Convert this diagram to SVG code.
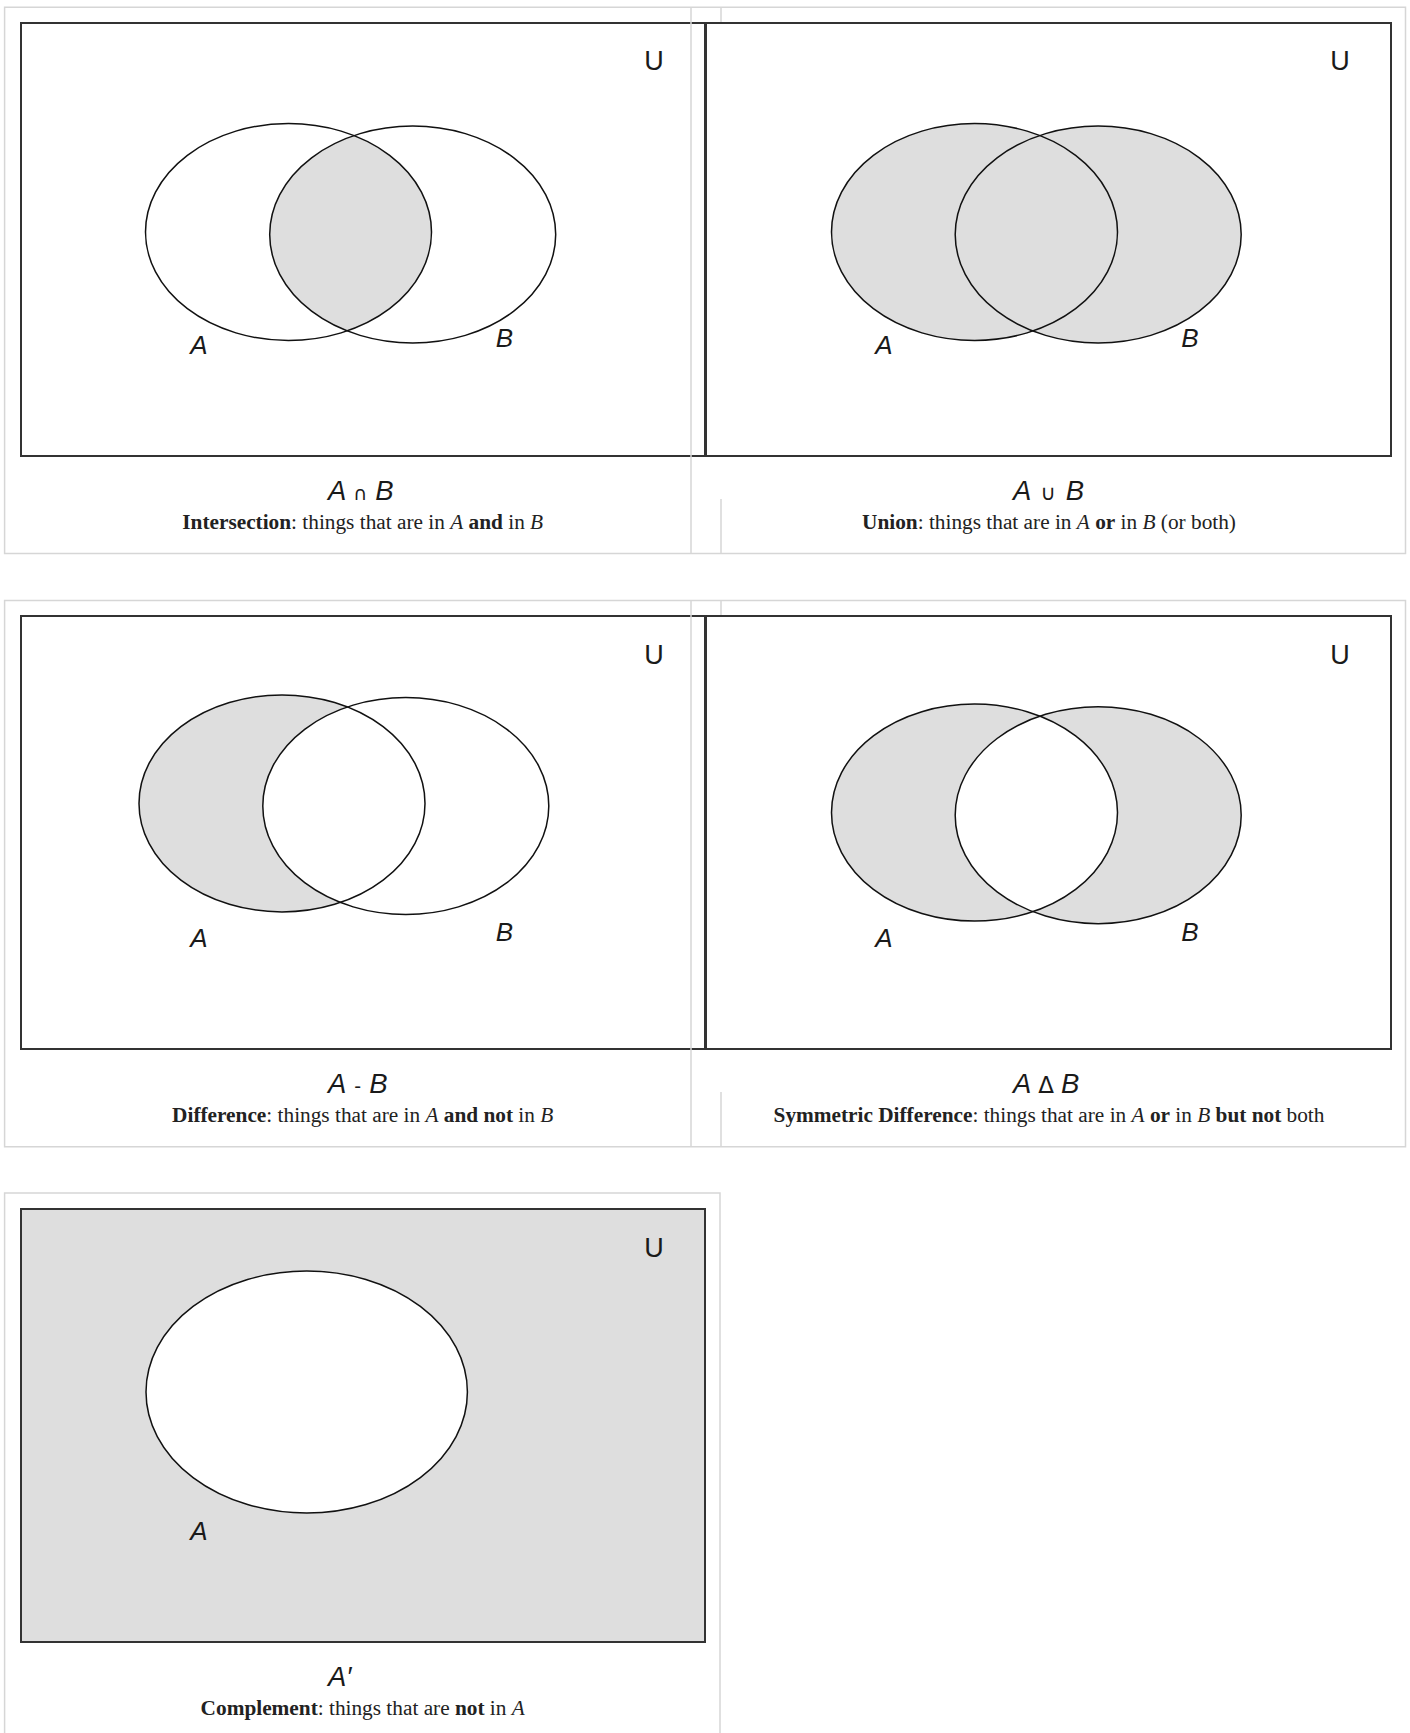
<svg xmlns="http://www.w3.org/2000/svg" width="1410" height="1733" viewBox="0 0 1410 1733">
  <style>
    .frame { fill: none; stroke: #d6d6d6; stroke-width: 1.5; }
    .uni { fill: #ffffff; stroke: #333333; stroke-width: 2; }
    .set { fill: none; stroke: #111111; stroke-width: 1.5; }
    .shade { fill: #dedede; }
    .blank { fill: #ffffff; }
    .lbl { font-family: "Liberation Sans", Arial, sans-serif; font-style: italic; font-size: 26px; fill: #1a1a1a; text-anchor: middle; }
    .u { font-family: "Liberation Sans", Arial, sans-serif; font-size: 27px; fill: #1a1a1a; text-anchor: middle; }
    .fx { font-family: "Liberation Sans", Arial, sans-serif; font-style: italic; font-size: 27.5px; fill: #1a1a1a; }
    .op { font-family: "DejaVu Sans", "Liberation Sans", sans-serif; font-style: normal; font-size: 19px; }
    .cap { font-family: "Liberation Serif", "Times New Roman", serif; font-size: 21.3px; fill: #222222; text-anchor: middle; }
    .b { font-weight: bold; }
    .i { font-style: italic; }
  </style>
  <defs>
    <clipPath id="clipA1"><ellipse cx="288.5" cy="232" rx="143" ry="108.5"/></clipPath>
    <clipPath id="clipA4"><ellipse cx="974.5" cy="812.6" rx="143" ry="108.5"/></clipPath>
  </defs>

  <rect width="1410" height="1733" fill="#ffffff"/>

  <!-- Intersection -->
  <g id="intersection">
    <rect class="uni" x="21" y="23" width="684" height="433"/>
    <ellipse class="shade" cx="412.7" cy="234.5" rx="143" ry="108.5" clip-path="url(#clipA1)"/>
    <ellipse class="set" cx="288.5" cy="232" rx="143" ry="108.5"/>
    <ellipse class="set" cx="412.7" cy="234.5" rx="143" ry="108.5"/>
    <text class="u" x="654" y="70">U</text>
    <text class="lbl" x="199" y="353.5">A</text>
    <text class="lbl" x="504.5" y="347">B</text>
    <text class="fx" x="328" y="500">A<tspan class="op" dx="7">∩</tspan><tspan dx="8">B</tspan></text>
    <text class="cap" x="362.7" y="529"><tspan class="b">Intersection</tspan>: things that are in <tspan class="i">A</tspan> <tspan class="b">and</tspan> in <tspan class="i">B</tspan></text>
  </g>

  <!-- Union -->
  <g id="union">
    <rect class="uni" x="706" y="23" width="685" height="433"/>
    <ellipse class="shade" cx="974.5" cy="232" rx="143" ry="108.5"/>
    <ellipse class="shade" cx="1098.2" cy="234.5" rx="143" ry="108.5"/>
    <ellipse class="set" cx="974.5" cy="232" rx="143" ry="108.5"/>
    <ellipse class="set" cx="1098.2" cy="234.5" rx="143" ry="108.5"/>
    <text class="u" x="1340" y="70">U</text>
    <text class="lbl" x="884" y="353.5">A</text>
    <text class="lbl" x="1190" y="347">B</text>
    <text class="fx" x="1013" y="500">A<tspan class="op" dx="9" style="font-size:21px">∪</tspan><tspan dx="10">B</tspan></text>
    <text class="cap" x="1049" y="529"><tspan class="b">Union</tspan>: things that are in <tspan class="i">A</tspan> <tspan class="b">or</tspan> in <tspan class="i">B</tspan> (or both)</text>
  </g>

  <!-- Difference -->
  <g id="difference">
    <rect class="uni" x="21" y="616" width="684" height="433"/>
    <ellipse class="shade" cx="282" cy="803.4" rx="143" ry="108.5"/>
    <ellipse class="blank" cx="405.8" cy="806" rx="143" ry="108.5"/>
    <ellipse class="set" cx="282" cy="803.4" rx="143" ry="108.5"/>
    <ellipse class="set" cx="405.8" cy="806" rx="143" ry="108.5"/>
    <text class="u" x="654" y="663.5">U</text>
    <text class="lbl" x="199" y="947">A</text>
    <text class="lbl" x="504.5" y="940.5">B</text>
    <text class="fx" x="328" y="1093">A<tspan class="op" dx="8">-</tspan><tspan dx="8">B</tspan></text>
    <text class="cap" x="362.7" y="1122"><tspan class="b">Difference</tspan>: things that are in <tspan class="i">A</tspan> <tspan class="b">and not</tspan> in <tspan class="i">B</tspan></text>
  </g>

  <!-- Symmetric difference -->
  <g id="symmetric-difference">
    <rect class="uni" x="706" y="616" width="685" height="433"/>
    <ellipse class="shade" cx="974.5" cy="812.6" rx="143" ry="108.5"/>
    <ellipse class="shade" cx="1098.2" cy="815.2" rx="143" ry="108.5"/>
    <ellipse class="blank" cx="1098.2" cy="815.2" rx="143" ry="108.5" clip-path="url(#clipA4)"/>
    <ellipse class="set" cx="974.5" cy="812.6" rx="143" ry="108.5"/>
    <ellipse class="set" cx="1098.2" cy="815.2" rx="143" ry="108.5"/>
    <text class="u" x="1340" y="663.5">U</text>
    <text class="lbl" x="884" y="947">A</text>
    <text class="lbl" x="1190" y="940.5">B</text>
    <text class="fx" x="1013" y="1093">A<tspan class="op" dx="7" style="font-size:23px">Δ</tspan><tspan dx="7">B</tspan></text>
    <text class="cap" x="1049" y="1122"><tspan class="b">Symmetric Difference</tspan>: things that are in <tspan class="i">A</tspan> <tspan class="b">or</tspan> in <tspan class="i">B</tspan> <tspan class="b">but not</tspan> both</text>
  </g>

  <!-- Complement -->
  <g id="complement">
    <rect class="uni" x="21" y="1209" width="684" height="433" style="fill:#dedede"/>
    <ellipse class="blank" cx="306.7" cy="1392" rx="160.7" ry="121"/>
    <ellipse class="set" cx="306.7" cy="1392" rx="160.7" ry="121"/>
    <text class="u" x="654" y="1256.5">U</text>
    <text class="lbl" x="199" y="1540">A</text>
    <text class="fx" x="328" y="1686">A′</text>
    <text class="cap" x="362.7" y="1715"><tspan class="b">Complement</tspan>: things that are <tspan class="b">not</tspan> in <tspan class="i">A</tspan></text>
  </g>

  <!-- cell borders -->
  <g id="cell-borders" class="frame">
    <path d="M4.6 7.3H1405.5V553.5H4.6Z"/>
    <path d="M691 7.3V553.5M721 7.3V22M721 499V553.5"/>
    <path d="M4.6 600.6H1405.5V1146.8H4.6Z"/>
    <path d="M691 600.6V1146.8M721 600.6V615M721 1092V1146.8"/>
    <path d="M4.6 1733V1193H720V1733"/>
  </g>
</svg>
